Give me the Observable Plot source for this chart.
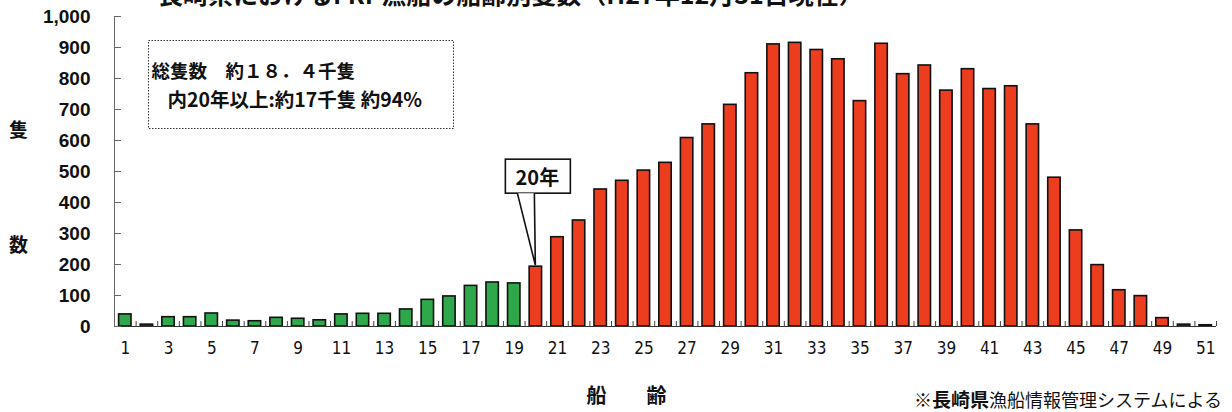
<!DOCTYPE html>
<html lang="ja">
<head>
<meta charset="utf-8">
<script src="https://cdn.jsdelivr.net/npm/d3@7"></script>
<script src="https://cdn.jsdelivr.net/npm/@observablehq/plot@0.6"></script>
<style>
  body { margin: 0; background: #fff; }
  #wrap { position: relative; width: 1232px; height: 412px; overflow: hidden; background: #fff;
          font-family: "Noto Sans CJK JP", "Noto Sans", sans-serif; color: #111; }
  #chart { position: absolute; left: 0; top: 0; }
  #title { position: absolute; left: 158px; top: -19px; font-size: 25px; font-weight: 700;
           line-height: 25px; white-space: nowrap; z-index: 2; }
  #note { position: absolute; left: 914px; top: 389px; line-height: 20px; white-space: nowrap; font-size: 18px; }
  #note b { font-size: 19px; font-weight: 700; }
</style>
</head>
<body>
<div id="wrap">
  <div id="chart"></div>
  <div id="title">長崎県におけるFRP漁船の船齢別隻数（H27年12月31日現在）</div>
  <div id="note">※<b>長崎県</b>漁船情報管理システムによる</div>
</div>
<script>
// Vessel age in years (x categories)
const ages = [1, 2, 3, 4, 5, 6, 7, 8, 9, 10, 11, 12, 13, 14, 15, 16, 17, 18, 19, 20,
  21, 22, 23, 24, 25, 26, 27, 28, 29, 30, 31, 32, 33, 34, 35, 36, 37, 38, 39, 40,
  41, 42, 43, 44, 45, 46, 47, 48, 49, 50, 51];
// Number of FRP fishing vessels for each age
const counts = [39, 6, 30, 30, 42, 19, 17, 28, 25, 20, 39, 41, 41, 55, 86, 97, 131, 142, 139, 193,
  288, 342, 442, 470, 503, 528, 608, 652, 715, 817, 910, 915, 892, 862, 727, 912, 814, 842, 761, 830,
  766, 775, 652, 480, 310, 198, 117, 98, 27, 6, 4];
// Labelled ages on the x axis
const xTickLabels = [1, 3, 5, 7, 9, 11, 13, 15, 17, 19, 21, 23, 25, 27, 29, 31, 33, 35, 37, 39, 41, 43, 45, 47, 49, 51];
// Y axis ticks
const yTickValues = [0, 100, 200, 300, 400, 500, 600, 700, 800, 900, 1000];
// Age from which vessels are counted as old (20 years and over)
const oldAge = 20;
const calloutLabel = "20年";
const summaryLines = ["総隻数　約１８．４千隻", "内20年以上:約17千隻 約94%"];

const youngColor = "#2fa84c";
const oldColor = "#ec3d1f";

const data = ages.map((age, i) => ({age, count: counts[i]}));
const boundaries = ages.map(a => a + 0.5);
const calloutValue = data.find(d => d.age === oldAge).count;

const numFont = "Liberation Sans, Arial, sans-serif";
const narrowFont = "Liberation Sans Narrow, DejaVu Sans Condensed, sans-serif";
const jpFont = "Noto Sans CJK JP, sans-serif";

// Callout box with a wedge pointing down at the first 20-year bar
function callout(index, scales) {
  const px = scales.x(oldAge);
  const py = scales.y(calloutValue);
  const bx = px + 2, by = py - 73;
  const g = d3.create("svg:g");
  g.append("rect")
    .attr("x", bx - 32).attr("y", by - 34).attr("width", 65).attr("height", 34)
    .attr("fill", "#fff").attr("stroke", "#111").attr("stroke-width", 1.6);
  g.append("path")
    .attr("d", `M${bx - 20},${by}L${px},${py - 1}L${bx - 3},${by}`)
    .attr("fill", "#fff").attr("stroke", "#111").attr("stroke-width", 1.6);
  g.append("text")
    .attr("x", bx).attr("y", by - 17)
    .attr("text-anchor", "middle").attr("dominant-baseline", "central")
    .attr("font-family", jpFont).attr("font-weight", 700).attr("font-size", 20)
    .attr("fill", "#111")
    .text(calloutLabel);
  return g.node();
}

const chart = Plot.plot({
  width: 1232,
  height: 412,
  marginLeft: 114,
  marginRight: 16,
  marginTop: 16,
  marginBottom: 86,
  style: {background: "transparent", overflow: "visible"},
  x: {domain: [0.5, 51.5]},
  y: {domain: [0, 1000]},
  marks: [
    // summary box
    Plot.frame({insetLeft: 34, insetTop: 24, insetRight: 763, insetBottom: 198,
      stroke: "#333", strokeWidth: 1, strokeDasharray: "1.5,1.5"}),
    Plot.text([summaryLines[0]], {frameAnchor: "top-left", dx: 37, dy: 56, textAnchor: "start",
      lineAnchor: "middle", fontSize: 18.5, fontWeight: "bold", fontFamily: jpFont, fill: "#111"}),
    Plot.text([summaryLines[1]], {frameAnchor: "top-left", dx: 53, dy: 84, textAnchor: "start",
      lineAnchor: "middle", fontSize: 19.5, fontWeight: "bold", fontFamily: jpFont, fill: "#111"}),
    // bars
    Plot.rectY(data, {
      x1: d => d.age - 0.5, x2: d => d.age + 0.5, y1: 0, y2: "count",
      insetLeft: 4.6, insetRight: 4.6,
      fill: d => d.age < oldAge ? youngColor : oldColor,
      stroke: "#111", strokeWidth: 1.6
    }),
    // axis lines and inward ticks
    Plot.ruleX([0.5], {stroke: "#666", strokeWidth: 1}),
    Plot.ruleY([0], {stroke: "#333", strokeWidth: 1}),
    Plot.tickY(yTickValues, {y: d => d, insetRight: 1095, stroke: "#666"}),
    Plot.tickX(boundaries, {x: d => d, insetTop: 305, stroke: "#444"}),
    Plot.axisY(yTickValues, {tickSize: 0, tickPadding: 24, tickFormat: d3.format(","), label: null,
      fontSize: 19, fontWeight: "bold", fontFamily: numFont, fill: "#111"}),
    Plot.axisX(xTickLabels, {tickSize: 0, tickPadding: 15, tickFormat: d => String(d), label: null,
      fontSize: 17, fontFamily: narrowFont, fill: "#111"}),
    // axis titles
    Plot.text(["隻"], {frameAnchor: "top-left", dx: -96, dy: 114, textAnchor: "middle", lineAnchor: "middle",
      fontSize: 19, fontWeight: "bold", fontFamily: jpFont, fill: "#111"}),
    Plot.text(["数"], {frameAnchor: "top-left", dx: -96, dy: 229, textAnchor: "middle", lineAnchor: "middle",
      fontSize: 19, fontWeight: "bold", fontFamily: jpFont, fill: "#111"}),
    Plot.text(["船　　齢"], {frameAnchor: "bottom-left", dx: 512, dy: 70, textAnchor: "middle", lineAnchor: "middle",
      fontSize: 20, fontWeight: "bold", fontFamily: jpFont, fill: "#111"}),
    callout
  ]
});
document.getElementById("chart").appendChild(chart);
</script>
</body>
</html>
